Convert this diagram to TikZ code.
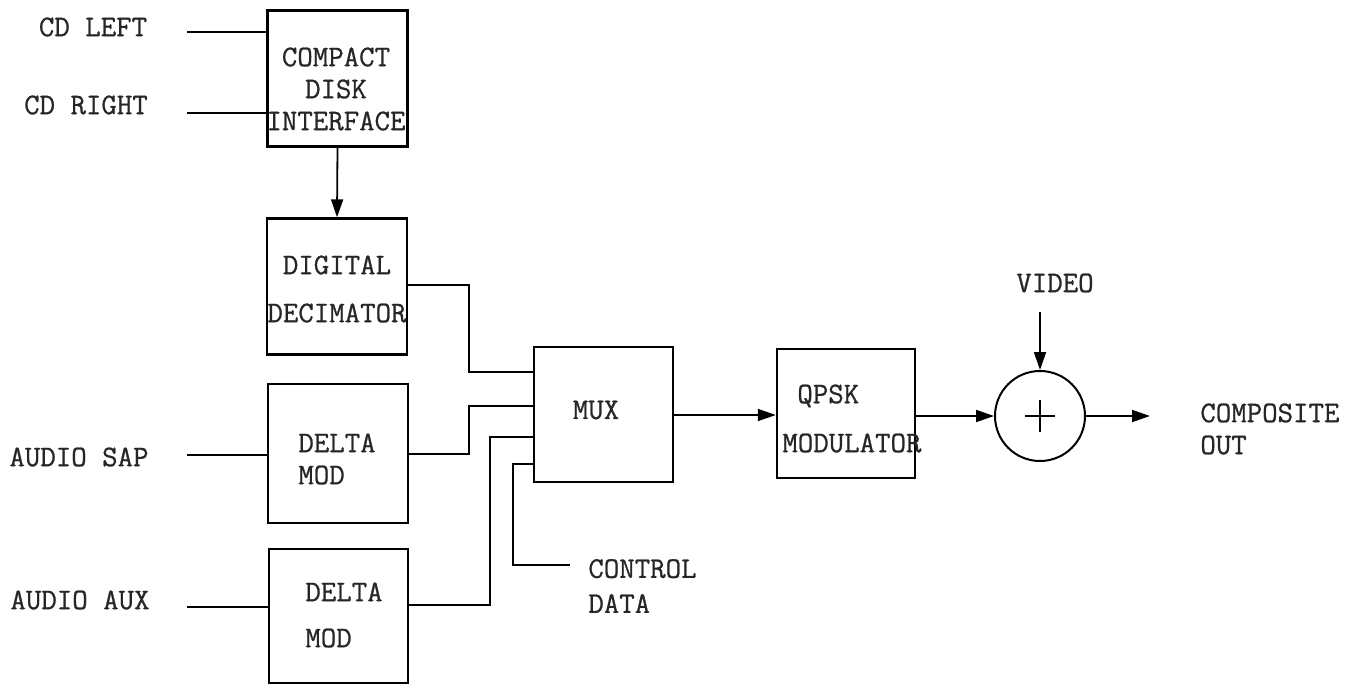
\documentclass[tikz,border=0pt]{standalone}
\usepackage{fontspec}
\newfontfamily\typew[FakeBold=0.8]{Latin Modern Mono}
\usetikzlibrary{arrows.meta,positioning,calc}

\begin{document}
\begin{tikzpicture}[
  x=0.5pt, y=-0.5pt,
  blk/.style={draw, line width=1.2pt, minimum width=70pt, minimum height=68pt, inner sep=0pt},
  sumnode/.style={draw, circle, line width=1pt, minimum size=45pt, inner sep=0pt},
  txt/.style={font=\typew\fontsize{15}{16}\selectfont, text=black!85, inner sep=0pt, align=center},
  wire/.style={line width=0.9pt},
  sig/.style={wire, -{Triangle[length=9pt,width=6pt]}}
]
\useasboundingbox (0,0) rectangle (1362,686);
% blocks
\node[blk] (cdi) at (337.5,78.5) {};
\node[blk] (deci) at (337,286.5) {};
\node[blk, minimum height=69.5pt] (dm1) at (338,453.5) {};
\node[blk, minimum width=69.5pt, minimum height=67pt] (dm2) at (338.5,616) {};
\node[blk, minimum width=69.5pt, minimum height=67.5pt] (mux) at (603.5,414.5) {};
\node[blk, minimum width=69pt, minimum height=64.5pt] (qpsk) at (846,413.5) {};
\node[sumnode] (sum) at (1040,416) {};
\draw[line width=0.7pt] (sum.center) +(-15,0) -- +(15,0) +(0,-16) -- +(0,16);
% block texts
\node[txt] (cditxt) at (336,89) {COMPACT\\DISK\\INTERFACE};
\node[txt] (decitxt) at (337,289) {DIGITAL\\[8pt]DECIMATOR};
\node[txt, anchor=west, align=left] (dm1txt) at (298,459) {DELTA\\MOD};
\node[txt, anchor=west, align=left] (dm2txt) at (305,615) {DELTA\\[7pt]MOD};
\node[txt] (muxtxt) at (596,410) {MUX};
\node[txt, anchor=west] (qpsktxt) at (797,396) {QPSK};
\node[txt, anchor=west] (modtxt) at (782,443) {MODULATOR};
% signal labels
\node[txt] (lcdl) at (93,27) {CD LEFT};
\node[txt] (lcdr) at (86,105) {CD RIGHT};
\node[txt] (lsap) at (79,457) {AUDIO SAP};
\node[txt] (laux) at (80,600) {AUDIO AUX};
\node[txt, anchor=west, align=left] (lctl) at (588,586) {CONTROL\\[1.5pt]DATA};
\node[txt] (lvid) at (1055,283) {VIDEO};
\node[txt, anchor=west, align=left] (lout) at (1200,429) {COMPOSITE\\OUT};
% free ends
\coordinate (incdl) at (187,32);
\coordinate (incdr) at (187,113);
\coordinate (insap) at (187,455);
\coordinate (inaux) at (187,607);
\coordinate (inctl) at (570,565);
\coordinate (invid) at (1040,312);
\coordinate (outc) at (1150,416);
% connectors
\draw[wire] (incdl) -- (incdl -| cdi.west);
\draw[wire] (incdr) -- (incdr -| cdi.west);
\draw[wire] (insap) -- (insap -| dm1.west);
\draw[wire] (inaux) -- (inaux -| dm2.west);
\draw[sig] (cdi.south) -- (deci.north);
\draw[wire] (deci.east |- 0,285) -| (469,372) -- (mux.west |- 0,372);
\draw[wire] (dm1.east |- 0,454) -| (469,406) -- (mux.west |- 0,406);
\draw[wire] (dm2.east |- 0,605) -| (490,437) -- (mux.west |- 0,437);
\draw[wire] (mux.west |- 0,464) -| (513,565) -- (inctl);
\draw[sig] (mux.east |- 0,415) -- (qpsk.west |- 0,415);
\draw[sig] (qpsk.east |- sum) -- (sum.west);
\draw[sig] (invid) -- (sum.north);
\draw[sig] (sum.east) -- (outc);
\end{tikzpicture}
\end{document}
